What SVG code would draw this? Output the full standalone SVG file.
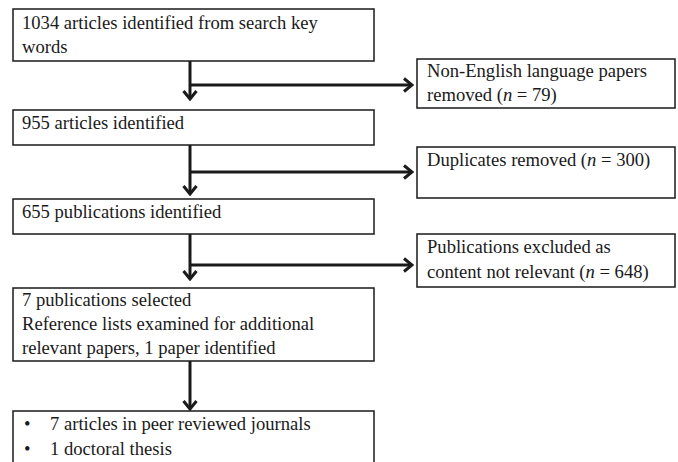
<svg xmlns="http://www.w3.org/2000/svg" width="678" height="462" viewBox="0 0 678 462">
<style>
.box{fill:#fff;stroke:#1a1a1a;stroke-width:1.5}
.t{font-family:'Liberation Serif','Times New Roman',Times,serif;font-size:18.6px;fill:#1a1a1a}
.c{fill:none;stroke:#1a1a1a;stroke-width:3}
</style>
<defs>
<marker id="ah" markerUnits="userSpaceOnUse" viewBox="0 0 12 16" refX="10" refY="8" markerWidth="12" markerHeight="16" orient="auto">
<path d="M2,1.5 L10,8 L2,14.5" fill="none" stroke="#1a1a1a" stroke-width="3"/>
</marker>
</defs>
<rect width="678" height="462" fill="#fff"/>
<g id="connectors">
<path class="c" d="M190,61 V99" marker-end="url(#ah)"/>
<path class="c" d="M190,85 H412" marker-end="url(#ah)"/>
<path class="c" d="M190,145 V194" marker-end="url(#ah)"/>
<path class="c" d="M190,172 H412" marker-end="url(#ah)"/>
<path class="c" d="M190,234 V279" marker-end="url(#ah)"/>
<path class="c" d="M190,265 H412" marker-end="url(#ah)"/>
<path class="c" d="M190,361 V409" marker-end="url(#ah)"/>
</g>
<g id="n1">
<rect class="box" x="13" y="9" width="361" height="52"/>
<text class="t" x="22" y="29">1034 articles identified from search key</text>
<text class="t" x="22" y="53">words</text>
</g>
<g id="n2">
<rect class="box" x="417" y="59" width="258" height="49"/>
<text class="t" x="427" y="77">Non-English language papers</text>
<text class="t" x="427" y="101">removed (<tspan font-style="italic">n</tspan> = 79)</text>
</g>
<g id="n3">
<rect class="box" x="13" y="110" width="361" height="35"/>
<text class="t" x="22" y="129">955 articles identified</text>
</g>
<g id="n4">
<rect class="box" x="417" y="147" width="258" height="51"/>
<text class="t" x="427" y="166">Duplicates removed (<tspan font-style="italic">n</tspan> = 300)</text>
</g>
<g id="n5">
<rect class="box" x="13" y="199" width="361" height="35"/>
<text class="t" x="22" y="218">655 publications identified</text>
</g>
<g id="n6">
<rect class="box" x="417" y="234" width="258" height="53"/>
<text class="t" x="427" y="253">Publications excluded as</text>
<text class="t" x="427" y="278">content not relevant (<tspan font-style="italic">n</tspan> = 648)</text>
</g>
<g id="n7">
<rect class="box" x="13" y="288" width="361" height="73"/>
<text class="t" x="22" y="306">7 publications selected</text>
<text class="t" x="22" y="330">Reference lists examined for additional</text>
<text class="t" x="22" y="354">relevant papers, 1 paper identified</text>
</g>
<g id="n8">
<rect class="box" x="13" y="411" width="361" height="60"/>
<text class="t" x="24" y="430">•</text>
<text class="t" x="50" y="430">7 articles in peer reviewed journals</text>
<text class="t" x="24" y="455">•</text>
<text class="t" x="50" y="455">1 doctoral thesis</text>
</g>
</svg>
